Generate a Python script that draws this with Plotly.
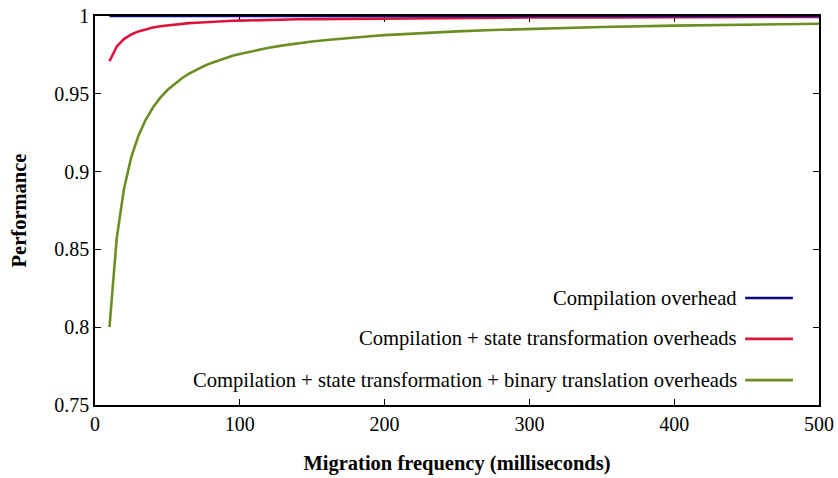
import plotly.graph_objects as go

x_ms = [10, 15, 20, 25, 30, 35, 40, 45, 50, 55, 60, 65, 70, 75, 80, 85, 90, 95, 100,
        110, 120, 130, 140, 150, 160, 170, 180, 190, 200, 225, 250, 275, 300, 350,
        400, 450, 500]

compile_only = [1.0] * len(x_ms)

compile_state = [0.9709, 0.9804, 0.9852, 0.9881, 0.9901, 0.9915, 0.9926, 0.9934, 0.9940,
                 0.9946, 0.9950, 0.9954, 0.9957, 0.9960, 0.9963, 0.9965, 0.9967, 0.9969,
                 0.9970, 0.9973, 0.9975, 0.9977, 0.9979, 0.9980, 0.9981, 0.9982, 0.9983,
                 0.9984, 0.9985, 0.9987, 0.9988, 0.9989, 0.9990, 0.9991, 0.9993, 0.9993,
                 0.9994]

compile_state_bt = [0.8000, 0.8571, 0.8889, 0.9091, 0.9231, 0.9333, 0.9412, 0.9474, 0.9524,
                    0.9565, 0.9600, 0.9630, 0.9655, 0.9677, 0.9697, 0.9714, 0.9730, 0.9744,
                    0.9756, 0.9778, 0.9796, 0.9811, 0.9825, 0.9836, 0.9846, 0.9855, 0.9863,
                    0.9870, 0.9877, 0.9890, 0.9901, 0.9910, 0.9917, 0.9929, 0.9938, 0.9945,
                    0.9950]

names = ["Compilation overhead",
         "Compilation + state transformation overheads",
         "Compilation + state transformation + binary translation overheads"]
colors = ["#0a0a78", "#dc143c", "#6b8e23"]
series = [compile_only, compile_state, compile_state_bt]

x_ticks = [0, 100, 200, 300, 400, 500]
y_ticks = [0.75, 0.8, 0.85, 0.9, 0.95, 1.0]
y_ticklabels = ["0.75", "0.8", "0.85", "0.9", "0.95", "1"]

FONT = "Liberation Serif"

fig = go.Figure()
for i in [2, 1, 0]:
    fig.add_trace(go.Scatter(x=x_ms, y=series[i], mode="lines", name=names[i],
                             line=dict(color=colors[i], width=2.6),
                             showlegend=False))

# legend drawn gnuplot-style: right-aligned text followed by the line sample
leg_y = [0.275, 0.170, 0.064]
for i in range(3):
    fig.add_annotation(xref="paper", yref="paper", x=0.889, y=leg_y[i], text=names[i],
                       showarrow=False, xanchor="right", yanchor="middle",
                       font=dict(family=FONT, size=20.6, color="black"))
    fig.add_shape(type="line", xref="paper", yref="paper", x0=0.898, x1=0.964,
                  y0=leg_y[i], y1=leg_y[i], line=dict(color=colors[i], width=2.6))

axis_common = dict(showline=True, linecolor="black", linewidth=1.5, mirror="ticks",
                   ticks="inside", ticklen=6, tickcolor="black", showgrid=False,
                   zeroline=False, automargin=False, layer="below traces",
                   tickfont=dict(family=FONT, size=20, color="black"))

fig.update_xaxes(range=[0, 500], tickvals=x_ticks, ticktext=[str(v) for v in x_ticks],
                 title=dict(text="<b>Migration frequency (milliseconds)</b>", standoff=22,
                            font=dict(family=FONT, size=20.5, color="black")),
                 **axis_common)
fig.update_yaxes(range=[0.75, 1.0], tickvals=y_ticks, ticktext=y_ticklabels,
                 title=dict(text="<b>Performance</b>", standoff=22,
                            font=dict(family=FONT, size=20.5, color="black")),
                 **axis_common)

fig.update_layout(width=838, height=478, margin=dict(l=95, r=19, t=16, b=73),
                  plot_bgcolor="white", paper_bgcolor="white",
                  font=dict(family=FONT, size=20, color="black"))

fig.write_html("out.html")
